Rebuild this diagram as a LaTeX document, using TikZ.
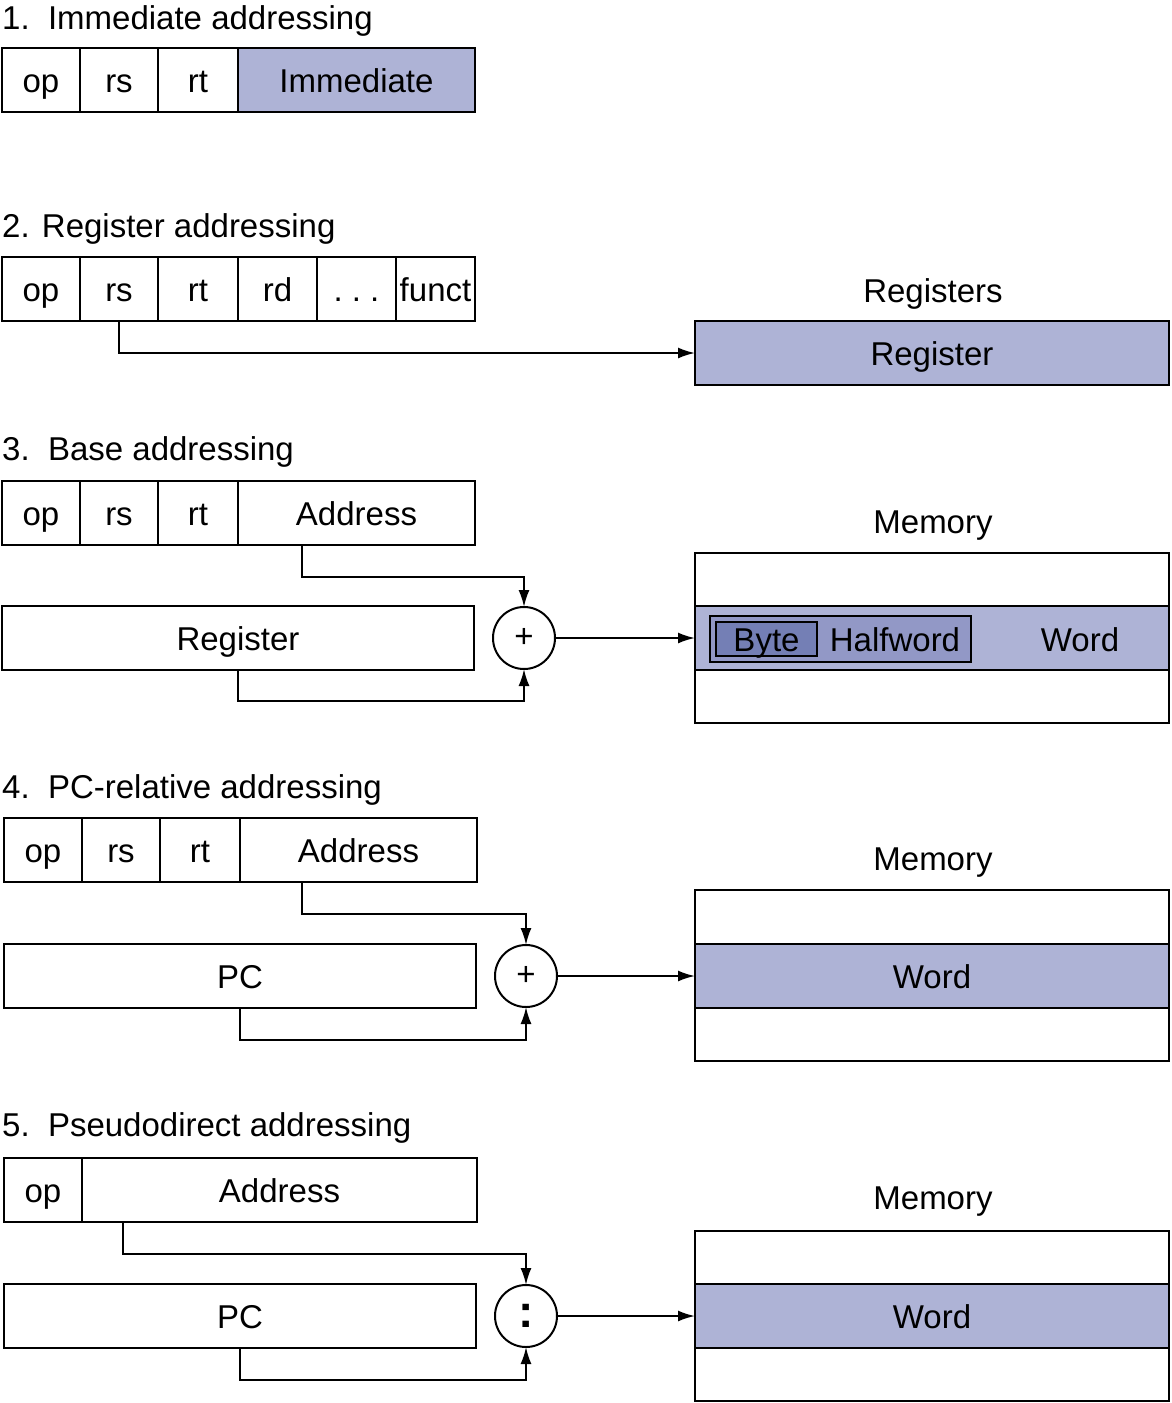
\documentclass[tikz,border=0pt]{standalone}
\usepackage{fontspec}
\setmainfont{Liberation Sans}
\usetikzlibrary{arrows.meta}

\definecolor{fieldfill}{RGB}{174,179,214}
\definecolor{halffill}{RGB}{146,152,198}
\definecolor{bytefill}{RGB}{116,127,181}

\tikzset{
    field/.style={draw,line width=2pt,minimum height=64pt,inner sep=0pt,outer sep=0pt,
        text height=24pt,text depth=0pt,anchor=north west},
    shaded/.style={fill=fieldfill},
    cell/.style={draw,line width=2pt,inner sep=0pt,outer sep=0pt,text height=24pt,text depth=0pt,
        anchor=north west,minimum width=474pt},
    combine/.style={circle,draw,line width=2pt,minimum size=62pt,inner sep=0pt,outer sep=0pt},
    title/.style={anchor=base west,inner sep=0pt,font=\fontsize{33}{39}\selectfont},
    label/.style={anchor=base,inner sep=0pt},
    link/.style={->,line width=2pt}
}

\begin{document}
\begin{tikzpicture}[x=1pt,y=-1pt,font=\fontsize{33}{39}\selectfont,>={Latex[length=17pt,width=11pt]}]
    \useasboundingbox (0,0) rectangle (1171,1403);

    % 1. immediate
    \node [title] (t1) at (2,29) {1.\ \ Immediate addressing};
    \foreach \n/\x/\w in {op/2/78,rs/80/78,rt/158/80}{
        \node [field,minimum width=\w pt] (a-\n) at (\x,48) {\n};
    }
    \node [field,shaded,minimum width=237pt] (a-imm) at (238,48) {Immediate};

    % 2. register
    \node [title] (t2) at (2,237) {2. Register addressing};
    \foreach \n/\x/\w in {op/2/78,rs/80/78,rt/158/80,rd/238/79}{
        \node [field,minimum width=\w pt] (b-\n) at (\x,257) {\n};
    }
    \node [field,minimum width=79pt] (b-dots) at (317,257) {.\ .\ .};
    \node [field,minimum width=79pt] (b-funct) at (396,257) {funct};
    \node [label] (b-lab) at (933,302) {Registers};
    \node [field,shaded,minimum width=474pt] (b-reg) at (695,321) {Register};
    \draw [link] (b-rs.south) |- (b-reg.west);

    % 3. base
    \node [title] (t3) at (2,460) {3.\ \ Base addressing};
    \foreach \n/\x/\w in {op/2/78,rs/80/78,rt/158/80}{
        \node [field,minimum width=\w pt] (c-\n) at (\x,481) {\n};
    }
    \node [field,minimum width=237pt] (c-addr) at (238,481) {Address};
    \node [field,minimum width=472pt] (c-reg) at (2,606) {Register};
    \node [combine] (c-add) at (524,638) {+};
    \node [label] (c-lab) at (933,533) {Memory};
    \node [cell,minimum height=53pt] (c-top) at (695,553) {};
    \node [cell,shaded,minimum height=64pt] (c-word) at (695,606) {};
    \node [cell,minimum height=53pt] (c-bot) at (695,670) {};
    \node [draw,line width=1.5pt,fill=halffill,anchor=north west,outer sep=0pt,
        minimum width=261pt,minimum height=46pt] (c-half) at (710,616) {};
    \node [draw,line width=1.5pt,fill=bytefill,anchor=north west,outer sep=0pt,inner sep=0pt,
        minimum width=101pt,minimum height=34pt,text height=24pt,text depth=0pt] (c-byte) at (716,622) {Byte};
    \node [text height=24pt,text depth=0pt] (c-hw) at (895,639) {Halfword};
    \node [text height=24pt,text depth=0pt] (c-w) at (1080,639) {Word};
    \draw [link] ([xshift=64pt]c-addr.south west) -- ++(0,32) -| (c-add.north);
    \draw [link] (c-reg.south) -- ++(0,31) -| (c-add.south);
    \draw [link] (c-add.east) -- (c-word.west);

    % 4. pc-relative
    \node [title] (t4) at (2,798) {4.\ \ PC-relative addressing};
    \foreach \n/\x/\w in {op/4/78,rs/82/78,rt/160/80}{
        \node [field,minimum width=\w pt] (d-\n) at (\x,818) {\n};
    }
    \node [field,minimum width=237pt] (d-addr) at (240,818) {Address};
    \node [field,minimum width=472pt] (d-pc) at (4,944) {PC};
    \node [combine] (d-add) at (526,976) {+};
    \node [label] (d-lab) at (933,870) {Memory};
    \node [cell,minimum height=54pt] (d-top) at (695,890) {};
    \node [cell,shaded,minimum height=64pt] (d-word) at (695,944) {Word};
    \node [cell,minimum height=53pt] (d-bot) at (695,1008) {};
    \draw [link] ([xshift=62pt]d-addr.south west) -- ++(0,32) -| (d-add.north);
    \draw [link] (d-pc.south) -- ++(0,32) -| (d-add.south);
    \draw [link] (d-add.east) -- (d-word.west);

    % 5. pseudodirect
    \node [title] (t5) at (2,1136) {5.\ \ Pseudodirect addressing};
    \node [field,minimum width=78pt] (e-op) at (4,1158) {op};
    \node [field,minimum width=395pt] (e-addr) at (82,1158) {Address};
    \node [field,minimum width=472pt] (e-pc) at (4,1284) {PC};
    \node [combine,font=\fontsize{46}{50}\selectfont\bfseries] (e-cat) at (526,1316) {:};
    \node [label] (e-lab) at (933,1209) {Memory};
    \node [cell,minimum height=54pt] (e-top) at (695,1231) {};
    \node [cell,shaded,minimum height=64pt] (e-word) at (695,1284) {Word};
    \node [cell,minimum height=53pt] (e-bot) at (695,1348) {};
    \draw [link] ([xshift=41pt]e-addr.south west) -- ++(0,32) -| (e-cat.north);
    \draw [link] (e-pc.south) -- ++(0,32) -| (e-cat.south);
    \draw [link] (e-cat.east) -- (e-word.west);
\end{tikzpicture}
\end{document}
